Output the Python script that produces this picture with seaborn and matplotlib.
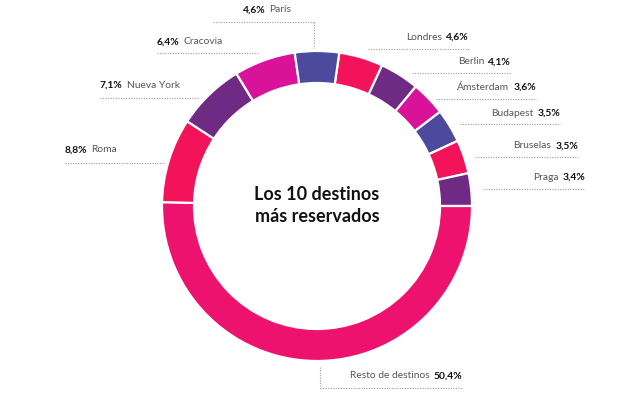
import matplotlib
matplotlib.use("Agg")
import matplotlib.pyplot as plt
import seaborn as sns

# ---- data (clockwise from the top-right, after half of Paris) ----
names = ["Londres", "Berlin", "Ámsterdam", "Budapest", "Bruselas", "Praga",
         "Resto de destinos", "Roma", "Nueva York", "Cracovia", "París"]
values = [4.6, 4.1, 3.6, 3.5, 3.5, 3.4, 50.4, 8.8, 7.1, 6.4, 4.6]
pct_labels = ["4,6%", "4,1%", "3,6%", "3,5%", "3,5%", "3,4%", "50,4%",
              "8,8%", "7,1%", "6,4%", "4,6%"]
colors = ["#f2135b", "#6f2a84", "#d8139a", "#4b4a9c", "#f2135b", "#6f2a84",
          "#ec126e", "#f2135b", "#6f2a84", "#d8139a", "#4b4a9c"]
title_lines = ["Los 10 destinos", "más reservados"]

sns.set_theme(style="white")
plt.rcParams["font.family"] = ["Lato", "DejaVu Sans"]

W, H = 643, 397
fig = plt.figure(figsize=(W / 100, H / 100), dpi=100)
ax = fig.add_axes([0, 0, 1, 1])

cx, cy, R, ring = 317, 206, 155, 32
start = 90 - values[-1] / 100 * 360 / 2
ax.pie(values, colors=colors, startangle=start, counterclock=False,
       center=(cx, H - cy), radius=R,
       wedgeprops=dict(width=ring, edgecolor="white", linewidth=1.6))
ax.set_xlim(0, W)
ax.set_ylim(0, H)
ax.set_aspect("equal")
ax.axis("off")

for i, t in enumerate(title_lines):
    ax.text(cx, H - (194 + i * 23), t, ha="center", va="center",
            fontsize=13, fontweight="bold", color="#111111")

fig.canvas.draw()
renderer = fig.canvas.get_renderer()

def width_of(txt):
    return txt.get_window_extent(renderer).width

dot = dict(color="#9a9a9a", linewidth=0.8, linestyle=(0, (1, 1.3)))
fs = 7.4

# label layout: (text_y, line_y, line_x0, line_x1, side)
layout = {
    "Londres": (37, 49, 368, 469, "r"),
    "Berlin": (62, 73, 412, 511, "r"),
    "Ámsterdam": (87, 99, 436, 536, "r"),
    "Budapest": (113, 124, 460, 560, "r"),
    "Bruselas": (146, 157, 475, 578, "r"),
    "Praga": (177, 189, 483, 585, "r"),
    "Resto de destinos": (376, 388, 320, 462, "r"),
    "Roma": (150, 163, 65, 165, "l"),
    "Nueva York": (85, 98, 100, 199, "l"),
    "Cracovia": (42, 53, 157, 258, "l"),
    "París": (10, 22, 213, 314, "l"),
}

for name, pct in zip(names, pct_labels):
    ty, ly, x0, x1, side = layout[name]
    ax.plot([x0, x1], [H - ly, H - ly], **dot)
    if side == "r":
        b = ax.text(x1, H - ty, pct, ha="right", va="center", fontsize=fs,
                    fontweight="bold", color="#111111")
        wb = width_of(b)
        ax.text(x1 - wb - 4, H - ty, name, ha="right", va="center",
                fontsize=fs, fontweight="normal", color="#555555")
    else:
        tx = x0 + 30 if name == "París" else x0
        b = ax.text(tx, H - ty, pct, ha="left", va="center", fontsize=fs,
                    fontweight="bold", color="#111111")
        wb = width_of(b)
        ax.text(tx + wb + 4, H - ty, name, ha="left", va="center",
                fontsize=fs, fontweight="normal", color="#555555")

# vertical leaders
ax.plot([314, 314], [H - 22, H - 48], **dot)
ax.plot([320, 320], [H - 367, H - 388], **dot)

fig.savefig("out.png", dpi=100, facecolor="white")
